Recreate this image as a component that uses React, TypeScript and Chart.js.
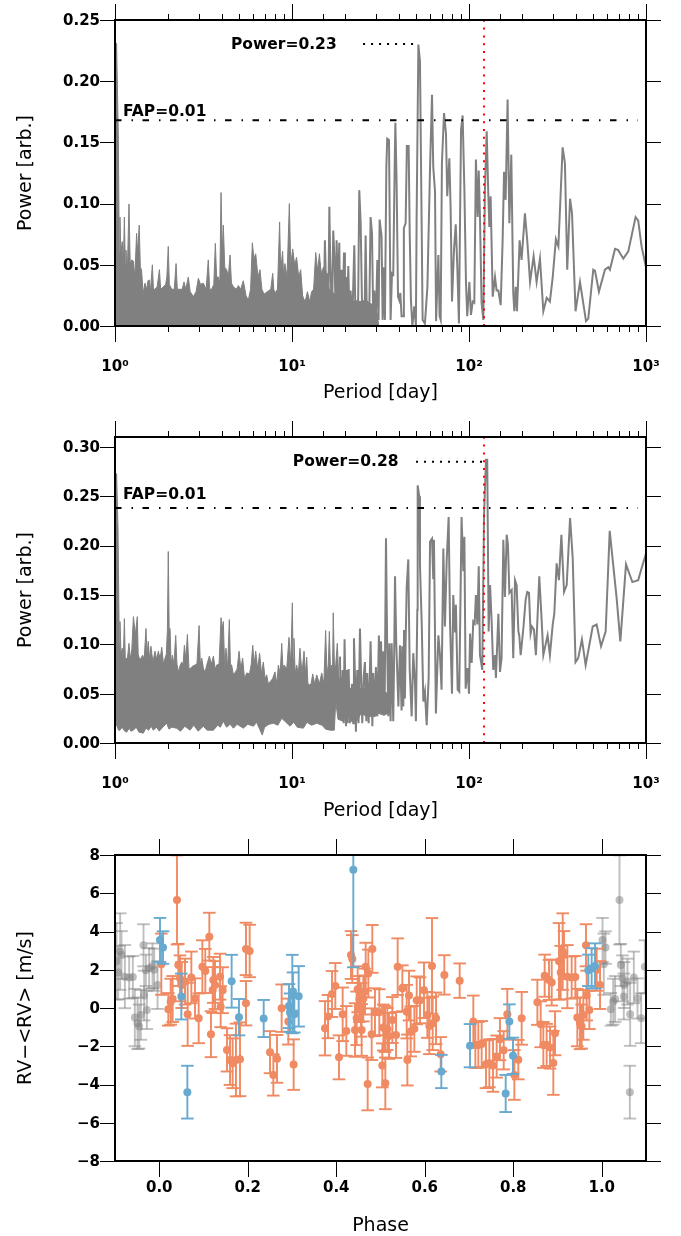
import { useRef, useEffect } from "react";
import { Chart, registerables } from "chart.js";

Chart.register(...registerables);

const GREY = "#808080";
const ORANGE = "#ef8a62";
const BLUE = "#67a9cf";
const FONT = "'DejaVu Sans'";

// top periodogram, dense part: log10(period) and power along the upper envelope
const logPeriodDenseA = [0, 0.009, 0.019, 0.024, 0.028, 0.033, 0.041, 0.047, 0.053, 0.058, 0.062, 0.07, 0.079, 0.086, 0.094, 0.104, 0.112, 0.122, 0.128, 0.137, 0.143, 0.15, 0.158, 0.163, 0.169, 0.18, 0.186, 0.194, 0.2, 0.211, 0.217, 0.226, 0.238, 0.251, 0.258, 0.273, 0.286, 0.293, 0.301, 0.307, 0.32, 0.335, 0.345, 0.352, 0.367, 0.38, 0.39, 0.4, 0.414, 0.425, 0.443, 0.458, 0.471, 0.483, 0.499, 0.515, 0.527, 0.535, 0.546, 0.558, 0.567, 0.574, 0.584, 0.592, 0.599, 0.606, 0.612, 0.62, 0.631, 0.64, 0.65, 0.658, 0.669, 0.685, 0.697, 0.71, 0.725, 0.74, 0.753, 0.766, 0.776, 0.785, 0.795, 0.808, 0.819, 0.83, 0.842, 0.86, 0.88, 0.891, 0.897, 0.904, 0.918, 0.93, 0.936, 0.947, 0.953, 0.96, 0.972, 0.985, 0.993, 1.004, 1.015, 1.026, 1.038, 1.049, 1.06, 1.068, 1.078, 1.087, 1.1, 1.111, 1.122, 1.134, 1.145, 1.155, 1.166, 1.177, 1.184, 1.19, 1.21, 1.25, 1.3, 1.35, 1.4, 1.45, 1.48, 1.49];
const powerDenseA = [0.16, 0.231, 0.152, 0.06, 0.089, 0.06, 0.069, 0.05, 0.089, 0.05, 0.062, 0.045, 0.0997, 0.05, 0.054, 0.053, 0.04, 0.0757, 0.06, 0.0825, 0.048, 0.046, 0.028, 0.03, 0.035, 0.03, 0.037, 0.0376, 0.028, 0.05, 0.03, 0.03, 0.032, 0.046, 0.03, 0.032, 0.034, 0.04, 0.065, 0.034, 0.03, 0.03, 0.051, 0.03, 0.03, 0.03, 0.036, 0.03, 0.04, 0.028, 0.024, 0.028, 0.039, 0.034, 0.035, 0.03, 0.054, 0.03, 0.03, 0.034, 0.0675, 0.04, 0.04, 0.035, 0.109, 0.06, 0.0825, 0.048, 0.046, 0.04, 0.058, 0.035, 0.032, 0.03, 0.033, 0.03, 0.037, 0.025, 0.021, 0.03, 0.068, 0.055, 0.059, 0.04, 0.046, 0.03, 0.026, 0.028, 0.03, 0.043, 0.03, 0.027, 0.03, 0.085, 0.045, 0.061, 0.04, 0.051, 0.04, 0.1, 0.05, 0.063, 0.05, 0.056, 0.04, 0.046, 0.025, 0.021, 0.022, 0.028, 0.02, 0.028, 0.03, 0.06, 0.045, 0.059, 0.04, 0.048, 0.03, 0.045, 0.03, 0.025, 0.022, 0.02, 0.02, 0.018, 0.012, 0];

// top periodogram, resolved part
const logPeriodA = [1.158, 1.164, 1.173, 1.179, 1.186, 1.194, 1.199, 1.205, 1.211, 1.216, 1.226, 1.233, 1.241, 1.247, 1.252, 1.26, 1.267, 1.273, 1.28, 1.286, 1.294, 1.299, 1.305, 1.312, 1.318, 1.324, 1.331, 1.341, 1.352, 1.359, 1.365, 1.373, 1.38, 1.388, 1.397, 1.403, 1.41, 1.416, 1.423, 1.427, 1.437, 1.444, 1.452, 1.459, 1.465, 1.474, 1.482, 1.489, 1.495, 1.506, 1.512, 1.516, 1.525, 1.533, 1.538, 1.548, 1.557, 1.565, 1.572, 1.58, 1.584, 1.591, 1.599, 1.606, 1.612, 1.619, 1.629, 1.632, 1.642, 1.649, 1.659, 1.665, 1.672, 1.68, 1.691, 1.7, 1.704, 1.714, 1.723, 1.733, 1.738, 1.751, 1.765, 1.78, 1.791, 1.798, 1.808, 1.814, 1.827, 1.834, 1.84, 1.847, 1.859, 1.87, 1.877, 1.889, 1.896, 1.904, 1.915, 1.925, 1.934, 1.943, 1.955, 1.964, 1.974, 1.983, 1.99, 2.002, 2.011, 2.021, 2.03, 2.039, 2.049, 2.055, 2.062, 2.071, 2.081, 2.09, 2.1, 2.109, 2.115, 2.122, 2.134, 2.147, 2.156, 2.166, 2.179, 2.19, 2.198, 2.207, 2.218, 2.228, 2.239, 2.25, 2.256, 2.264, 2.271, 2.286, 2.297, 2.316, 2.329, 2.345, 2.365, 2.382, 2.401, 2.42, 2.439, 2.457, 2.473, 2.491, 2.505, 2.529, 2.542, 2.555, 2.571, 2.582, 2.602, 2.627, 2.661, 2.674, 2.702, 2.712, 2.734, 2.768, 2.787, 2.796, 2.825, 2.843, 2.872, 2.9, 2.941, 2.956, 2.975, 3];
const powerA = [0.051, 0.021, 0.046, 0.01, 0.07, 0.021, 0.043, 0.01, 0.0975, 0.054, 0.005, 0.078, 0.051, 0.005, 0.07, 0.021, 0.068, 0.004, 0.046, 0.016, 0.06, 0.002, 0.04, 0.01, 0.049, 0.01, 0.029, 0.005, 0.066, 0.002, 0.021, 0.008, 0.111, 0.084, 0.005, 0.021, 0.008, 0.074, 0.005, 0.019, 0.016, 0.089, 0.076, 0.005, 0.029, 0.005, 0.054, 0.005, 0.087, 0.073, 0.005, 0.048, 0.005, 0.13, 0.153, 0.152, 0.005, 0.043, 0.042, 0.13, 0.166, 0.117, 0.024, 0.021, 0.027, 0.008, 0.008, 0.08, 0.084, 0.147, 0.147, 0.076, 0.021, 0, 0.016, 0, 0.087, 0.23, 0.216, 0.076, 0.005, 0.002, 0.032, 0.13, 0.189, 0.13, 0.11, 0.004, 0.058, 0.008, 0.005, 0.133, 0.174, 0.157, 0.106, 0.137, 0.097, 0.02, 0.062, 0.083, 0.048, 0.002, 0.16, 0.172, 0.111, 0.035, 0.008, 0.036, 0.009, 0.02, 0.019, 0.136, 0.089, 0.127, 0.089, 0.019, 0.005, 0.111, 0.159, 0.108, 0.081, 0.106, 0.024, 0.04, 0.029, 0.029, 0.017, 0.07, 0.126, 0.103, 0.185, 0.084, 0.14, 0.027, 0.012, 0.032, 0.012, 0.07, 0.054, 0.092, 0.07, 0.036, 0.057, 0.036, 0.055, 0.012, 0.023, 0.02, 0.04, 0.071, 0.065, 0.146, 0.133, 0.046, 0.104, 0.092, 0.012, 0.036, 0.004, 0.006, 0.046, 0.045, 0.028, 0.046, 0.048, 0.046, 0.063, 0.062, 0.055, 0.061, 0.089, 0.086, 0.065, 0.048];

// second periodogram, dense part: upper and lower envelopes
const logPeriodUpperB = [0, 0.009, 0.017, 0.024, 0.028, 0.034, 0.041, 0.047, 0.053, 0.058, 0.062, 0.07, 0.079, 0.086, 0.095, 0.104, 0.115, 0.126, 0.131, 0.137, 0.146, 0.156, 0.165, 0.175, 0.181, 0.188, 0.195, 0.203, 0.214, 0.226, 0.235, 0.245, 0.255, 0.264, 0.274, 0.283, 0.29, 0.296, 0.301, 0.306, 0.311, 0.317, 0.324, 0.333, 0.343, 0.35, 0.358, 0.367, 0.377, 0.385, 0.392, 0.4, 0.409, 0.418, 0.428, 0.44, 0.452, 0.463, 0.475, 0.482, 0.49, 0.5, 0.509, 0.52, 0.533, 0.545, 0.556, 0.566, 0.575, 0.588, 0.599, 0.606, 0.612, 0.62, 0.627, 0.636, 0.646, 0.652, 0.659, 0.668, 0.678, 0.69, 0.701, 0.711, 0.721, 0.732, 0.744, 0.76, 0.77, 0.778, 0.787, 0.795, 0.806, 0.817, 0.828, 0.838, 0.848, 0.857, 0.866, 0.876, 0.89, 0.904, 0.914, 0.923, 0.933, 0.942, 0.949, 0.955, 0.97, 0.983, 0.993, 1.002, 1.006, 1.011, 1.018, 1.026, 1.036, 1.045, 1.056, 1.068, 1.076, 1.083, 1.09, 1.098, 1.108, 1.117, 1.128, 1.14, 1.155, 1.168, 1.18, 1.19, 1.198, 1.205, 1.211, 1.218, 1.224, 1.229, 1.233, 1.24, 1.247, 1.256, 1.263, 1.271, 1.3, 1.35, 1.4, 1.45, 1.5, 1.54, 1.56];
const powerUpperB = [0.18, 0.273, 0.218, 0.1, 0.123, 0.09, 0.096, 0.085, 0.126, 0.085, 0.086, 0.085, 0.101, 0.085, 0.095, 0.128, 0.11, 0.128, 0.09, 0.086, 0.085, 0.089, 0.085, 0.116, 0.09, 0.103, 0.085, 0.098, 0.082, 0.093, 0.085, 0.093, 0.085, 0.097, 0.08, 0.086, 0.09, 0.115, 0.194, 0.115, 0.116, 0.08, 0.089, 0.08, 0.109, 0.08, 0.072, 0.078, 0.082, 0.08, 0.099, 0.085, 0.11, 0.075, 0.076, 0.078, 0.079, 0.08, 0.119, 0.08, 0.086, 0.075, 0.072, 0.08, 0.088, 0.08, 0.088, 0.075, 0.079, 0.08, 0.127, 0.115, 0.123, 0.075, 0.096, 0.075, 0.125, 0.08, 0.079, 0.07, 0.071, 0.075, 0.093, 0.075, 0.086, 0.065, 0.071, 0.07, 0.08, 0.099, 0.08, 0.093, 0.075, 0.091, 0.07, 0.082, 0.065, 0.069, 0.06, 0.062, 0.065, 0.072, 0.06, 0.079, 0.07, 0.101, 0.075, 0.079, 0.075, 0.107, 0.08, 0.142, 0.085, 0.106, 0.07, 0.079, 0.07, 0.096, 0.07, 0.093, 0.07, 0.087, 0.06, 0.059, 0.06, 0.07, 0.06, 0.069, 0.06, 0.071, 0.06, 0.114, 0.07, 0.079, 0.113, 0.07, 0.079, 0.07, 0.132, 0.075, 0.079, 0.101, 0.07, 0.06, 0.055, 0.055, 0.055, 0.055, 0.055, 0.05, 0.045];
const logPeriodLowerB = [0, 0.009, 0.02, 0.028, 0.04, 0.055, 0.066, 0.08, 0.09, 0.104, 0.12, 0.135, 0.16, 0.175, 0.19, 0.205, 0.216, 0.235, 0.25, 0.27, 0.292, 0.305, 0.32, 0.348, 0.37, 0.395, 0.424, 0.445, 0.47, 0.499, 0.52, 0.556, 0.58, 0.595, 0.612, 0.63, 0.65, 0.669, 0.69, 0.725, 0.75, 0.782, 0.8, 0.815, 0.832, 0.845, 0.87, 0.895, 0.92, 0.942, 0.96, 0.989, 1.01, 1.03, 1.064, 1.085, 1.11, 1.14, 1.17, 1.19, 1.215, 1.239, 1.247, 1.26, 1.29, 1.31, 1.335, 1.366, 1.39, 1.422, 1.444, 1.47, 1.49, 1.52, 1.54, 1.56];
const powerLowerB = [0.03, 0.018, 0.013, 0.013, 0.016, 0.012, 0.011, 0.015, 0.012, 0.013, 0.016, 0.011, 0.01, 0.015, 0.013, 0.017, 0.013, 0.016, 0.012, 0.016, 0.02, 0.014, 0.016, 0.015, 0.012, 0.017, 0.013, 0.018, 0.012, 0.017, 0.013, 0.013, 0.018, 0.016, 0.022, 0.016, 0.019, 0.015, 0.019, 0.015, 0.019, 0.017, 0.021, 0.015, 0.008, 0.016, 0.019, 0.02, 0.018, 0.025, 0.022, 0.017, 0.021, 0.016, 0.015, 0.021, 0.018, 0.02, 0.018, 0.014, 0.013, 0.013, 0.042, 0.024, 0.022, 0.03, 0.022, 0.022, 0.03, 0.027, 0.027, 0.027, 0.03, 0.028, 0.03, 0.03];

// second periodogram, resolved part
const logPeriodB = [1.271, 1.277, 1.286, 1.292, 1.297, 1.305, 1.309, 1.314, 1.32, 1.327, 1.339, 1.346, 1.35, 1.356, 1.361, 1.369, 1.376, 1.384, 1.392, 1.397, 1.405, 1.412, 1.42, 1.425, 1.433, 1.444, 1.454, 1.459, 1.467, 1.474, 1.482, 1.491, 1.497, 1.503, 1.51, 1.516, 1.523, 1.531, 1.538, 1.544, 1.55, 1.557, 1.563, 1.572, 1.578, 1.582, 1.589, 1.601, 1.61, 1.619, 1.623, 1.629, 1.633, 1.638, 1.642, 1.648, 1.657, 1.665, 1.676, 1.685, 1.695, 1.7, 1.708, 1.71, 1.719, 1.723, 1.733, 1.742, 1.751, 1.761, 1.772, 1.78, 1.791, 1.798, 1.802, 1.813, 1.827, 1.836, 1.845, 1.855, 1.864, 1.874, 1.885, 1.893, 1.904, 1.911, 1.921, 1.926, 1.936, 1.945, 1.958, 1.968, 1.974, 1.981, 1.991, 2, 2.006, 2.015, 2.024, 2.032, 2.039, 2.047, 2.055, 2.062, 2.075, 2.085, 2.096, 2.103, 2.111, 2.119, 2.128, 2.137, 2.147, 2.152, 2.166, 2.175, 2.184, 2.194, 2.203, 2.213, 2.22, 2.228, 2.241, 2.25, 2.26, 2.269, 2.279, 2.284, 2.292, 2.307, 2.32, 2.329, 2.339, 2.348, 2.356, 2.367, 2.378, 2.397, 2.41, 2.42, 2.444, 2.457, 2.473, 2.482, 2.495, 2.508, 2.522, 2.537, 2.552, 2.571, 2.586, 2.602, 2.617, 2.638, 2.659, 2.699, 2.721, 2.746, 2.772, 2.795, 2.815, 2.834, 2.855, 2.887, 2.923, 2.956, 2.975, 3];
const powerB = [0.0875, 0.023, 0.074, 0.02, 0.105, 0.017, 0.074, 0.02, 0.075, 0.02, 0.06, 0.02, 0.106, 0.067, 0.0115, 0.074, 0.02, 0.116, 0.054, 0.02, 0.067, 0.082, 0.022, 0.071, 0.02, 0.103, 0.017, 0.071, 0.027, 0.077, 0.027, 0.109, 0.03, 0.103, 0.03, 0.093, 0.03, 0.2074, 0.094, 0.027, 0.101, 0.022, 0.101, 0.022, 0.101, 0.169, 0.101, 0.037, 0.099, 0.033, 0.098, 0.037, 0.1145, 0.045, 0.103, 0.158, 0.186, 0.074, 0.027, 0.091, 0.06, 0.022, 0.135, 0.261, 0.25, 0.18, 0.12, 0.042, 0.052, 0.018, 0.066, 0.204, 0.207, 0.167, 0.206, 0.03, 0.109, 0.089, 0.054, 0.197, 0.118, 0.185, 0.229, 0.12, 0.05, 0.15, 0.113, 0.14, 0.054, 0.052, 0.229, 0.174, 0.209, 0.055, 0.076, 0.05, 0.111, 0.081, 0.123, 0.121, 0.15, 0.12, 0.179, 0.089, 0.074, 0.231, 0.287, 0.287, 0.113, 0.16, 0.123, 0.074, 0.089, 0.066, 0.131, 0.072, 0.086, 0.206, 0.148, 0.211, 0.201, 0.152, 0.155, 0.086, 0.165, 0.16, 0.113, 0.109, 0.089, 0.116, 0.145, 0.153, 0.152, 0.111, 0.118, 0.115, 0.089, 0.169, 0.126, 0.089, 0.109, 0.089, 0.12, 0.131, 0.182, 0.165, 0.211, 0.153, 0.16, 0.228, 0.187, 0.082, 0.086, 0.105, 0.079, 0.118, 0.12, 0.098, 0.113, 0.215, 0.18, 0.147, 0.103, 0.181, 0.163, 0.165, 0.177, 0.192];

// phase-folded radial velocities
const phaseBlue = [0.0017, 0.0085, 0.0499, 0.0635, 0.1636, 0.1802, 0.236, 0.2932, 0.2955, 0.3007, 0.3022, 0.3053, 0.3151, 0.4386, 0.6375, 0.7023, 0.7829, 0.7912, 0.7994, 0.9697, 0.9772, 0.9848];
const rvBlue = [3.56, 3.16, 0.6, -4.4, 1.4, -0.48, -0.55, 0.1, -0.24, 0.73, 0.86, -0.33, 0.61, 7.23, -3.32, -1.97, -4.47, -0.71, -2.5, 1.97, 2.08, 2.2];
const errBlue = [1.15, 0.85, 1.2, 1.38, 1.38, 0.95, 0.97, 1.15, 1, 2.05, 1, 0.95, 1.58, 5.1, 0.87, 1.13, 0.97, 0.9, 0.95, 0.82, 1.05, 1.18];

const phaseOrange = [0.0047, 0.0401, 0.0205, 0.0258, 0.0303, 0.0431, 0.0469, 0.0507, 0.0582, 0.0642, 0.0725, 0.0808, 0.0891, 0.0974, 0.1041, 0.1132, 0.1169, 0.1222, 0.1207, 0.126, 0.1373, 0.1388, 0.1433, 0.1531, 0.1599, 0.1659, 0.1734, 0.1825, 0.196, 0.2043, 0.196, 0.2503, 0.2578, 0.2661, 0.3037, 0.2766, 0.2917, 0.3746, 0.3814, 0.3904, 0.3979, 0.4062, 0.4145, 0.4228, 0.4333, 0.4363, 0.4424, 0.4461, 0.4484, 0.4522, 0.4574, 0.4559, 0.4612, 0.465, 0.4665, 0.4725, 0.4815, 0.471, 0.48, 0.4875, 0.4973, 0.5064, 0.5041, 0.5109, 0.5154, 0.5102, 0.5192, 0.5268, 0.5351, 0.5388, 0.5494, 0.5592, 0.5644, 0.5682, 0.5765, 0.5607, 0.5818, 0.5893, 0.5983, 0.6059, 0.6104, 0.6164, 0.6179, 0.6255, 0.636, 0.6443, 0.6789, 0.7098, 0.7143, 0.7211, 0.7286, 0.7384, 0.746, 0.7543, 0.7625, 0.77, 0.7784, 0.7866, 0.8115, 0.8025, 0.819, 0.8545, 0.862, 0.868, 0.8755, 0.8831, 0.8906, 0.8944, 0.871, 0.8808, 0.8869, 0.9034, 0.9072, 0.9117, 0.9147, 0.9223, 0.932, 0.9403, 0.9448, 0.9509, 0.9546, 0.9584, 0.9659, 0.9644, 0.972, 0.9885, 0.9961];
const rvOrange = [2.29, 5.65, -0.07, 0.33, 0.47, 2.25, 1.55, 1.2, 1.38, -0.33, 1.6, 0.5, -0.54, 2.16, 1.94, 3.73, -1.37, 1.47, 0.94, 1.2, 1.64, 0.07, 0.93, -2.19, -2.72, -2.89, -2.72, -2.68, 3.09, 2.98, 0.25, -2.31, -3.5, -2.66, -2.96, -0.01, -0.71, -1.06, -0.45, 0.73, 1.15, -2.58, -0.33, -1.2, 2.77, 2.56, -1.15, -0.54, 0.98, 0.47, -1.15, -0.1, 0.5, 0.86, 2.16, 1.8, 3.09, -3.97, -1.37, -0.22, -0.22, -1.02, -3, -3.94, -1.1, -1.1, -1.46, -0.63, -1.41, 2.16, 1.03, -0.19, 0.65, -1.23, -1.09, -2.72, 0.4, 0.4, 0.93, -0.36, -0.94, 2.2, -0.8, -0.54, -2.42, 1.73, 1.43, -0.71, -1.93, -1.93, -1.88, -2.94, -2.89, -3, -2.54, -1.63, -2.21, -0.33, -2.7, -3.5, -0.54, 0.3, -0.85, -1.93, -1.93, -2.07, -2.87, -1.32, 1.69, 1.47, 1.33, 2.44, 1.85, 2.95, 2.77, 1.64, 1.59, 1.62, -0.5, -0.8, -0.97, -0.36, 0.65, 3.28, -0.1, 2, 1.2];
const errOrange = [1.6, 2.33, 0.85, 1.2, 1.2, 1.1, 1.2, 1.2, 1.2, 1.65, 1.35, 1.05, 1.3, 1.38, 1.15, 1.25, 1.2, 1.2, 1.2, 1.25, 1.2, 1.07, 1.2, 1.13, 1.3, 1.3, 1.9, 1.93, 1.37, 1.37, 1.16, 1.1, 1.08, 1.25, 1.32, 1.24, 1.2, 1.42, 1.13, 1.2, 1.2, 1.15, 1.4, 1.3, 1.25, 1.25, 1.4, 1.4, 1.2, 1.2, 1.35, 1.4, 1.2, 1.2, 1.25, 1.25, 1.25, 1.38, 1.35, 1.25, 1.2, 1.2, 1.15, 1.35, 1.1, 1.2, 1.2, 1.2, 1.2, 1.48, 1.2, 1.4, 1.3, 1.3, 1.2, 1.33, 1.25, 1.2, 1.45, 1.2, 1.47, 2.5, 1.4, 1.35, 0.9, 1.03, 0.9, 1.36, 1.2, 1.2, 1.2, 1.25, 1.25, 1.38, 1.1, 1.1, 1, 1.33, 1.03, 1.3, 1.38, 1.18, 1.2, 1.2, 1.1, 1.1, 1.67, 1.15, 1.1, 1.05, 1.2, 2, 1.4, 2, 1.25, 1.65, 1.1, 1.1, 1.5, 1.35, 1.15, 1.3, 1.3, 1.1, 1, 1.1, 1.25];

// wrapped copies outside phase 0-1
const phaseGrey = [-0.0966, -0.0928, -0.0883, -0.0853, -0.0777, -0.068, -0.0597, -0.0552, -0.0491, -0.0454, -0.0416, -0.0341, -0.0356, -0.028, -0.0115, -0.0039, -0.0303, -0.0228, -0.0152, 1.0017, 1.0085, 1.0499, 1.0635, 1.0047, 1.0401, 1.0205, 1.0258, 1.0303, 1.0431, 1.0469, 1.0507, 1.0582, 1.0642, 1.0725, 1.0808, 1.0891, 1.0974];
const rvGrey = [2.44, 1.85, 2.95, 2.77, 1.64, 1.59, 1.62, -0.5, -0.8, -0.97, -0.36, 0.65, 3.28, -0.1, 2, 1.2, 1.97, 2.08, 2.2, 3.56, 3.16, 0.6, -4.4, 2.29, 5.65, -0.07, 0.33, 0.47, 2.25, 1.55, 1.2, 1.38, -0.33, 1.6, 0.5, -0.54, 2.16];
const errGrey = [2, 1.4, 2, 1.25, 1.65, 1.1, 1.1, 1.5, 1.35, 1.15, 1.3, 1.3, 1.1, 1, 1.1, 1.25, 0.82, 1.05, 1.18, 1.15, 0.85, 1.2, 1.38, 1.6, 2.33, 0.85, 1.2, 1.2, 1.1, 1.2, 1.2, 1.2, 1.65, 1.35, 1.05, 1.3, 1.38];

const SUPERSCRIPTS: Record<number, string> = { 1: "10⁰", 10: "10¹", 100: "10²", 1000: "10³" };

const zipLog = (logs: number[], values: number[]) => logs.map((l, i) => ({ x: 10 ** l, y: values[i] }));
const zipXY = (xs: number[], ys: number[]) => xs.map((x, i) => ({ x, y: ys[i] }));

function isDecade(v: number) {
    return SUPERSCRIPTS[v] !== undefined;
}

interface Note {
    text: string;
    x: number;
    y: number;
}

// frame, ticks on all four sides and the text notes
function framePlugin(notes: Note[]) {
    return {
        id: "frameTicks",
        afterDraw(chart: Chart) {
            const { ctx, chartArea: a, scales } = chart;
            ctx.save();
            ctx.strokeStyle = "#000";
            ctx.lineWidth = 1;
            ctx.beginPath();
            for (const t of scales.x.ticks) {
                const px = Math.round(scales.x.getPixelForValue(t.value)) + 0.5;
                const log = scales.x.type === "logarithmic";
                const len = log && !isDecade(t.value) ? 6 : 16;
                ctx.moveTo(px, a.top);
                ctx.lineTo(px, a.top - len);
                ctx.moveTo(px, a.bottom);
                ctx.lineTo(px, a.bottom + len);
            }
            for (const t of scales.y.ticks) {
                const py = Math.round(scales.y.getPixelForValue(t.value)) + 0.5;
                ctx.moveTo(a.left, py);
                ctx.lineTo(a.left - 15, py);
                ctx.moveTo(a.right, py);
                ctx.lineTo(a.right + 15, py);
            }
            ctx.stroke();
            ctx.lineWidth = 2;
            ctx.strokeRect(a.left, a.top, a.right - a.left, a.bottom - a.top);
            ctx.fillStyle = "#000";
            ctx.font = `bold 15.5px ${FONT}`;
            ctx.textBaseline = "middle";
            for (const n of notes) {
                ctx.fillText(n.text, scales.x.getPixelForValue(n.x), scales.y.getPixelForValue(n.y) + 1);
            }
            ctx.restore();
        }
    };
}

function baseOptions(bottomHeight: number, top: number, xLabel: string, yLabel: string, xTitlePad: number, xTickPad: number): any {
    const tickFont = { family: FONT, size: 15, weight: "bold" as const };
    const titleFont = { family: FONT, size: 19, lineHeight: 1 };
    return {
        responsive: false,
        animation: false,
        events: [],
        layout: { padding: { top, right: 35, left: 0, bottom: 0 } },
        plugins: { legend: { display: false }, tooltip: { enabled: false } },
        scales: {
            x: {
                grid: { display: false },
                border: { display: false },
                afterFit: (s: any) => {
                    s.height = bottomHeight;
                    s.paddingLeft = 0;
                    s.paddingRight = 0;
                },
                title: { display: true, text: xLabel, color: "#000", font: titleFont, padding: { top: xTitlePad, bottom: xTitlePad } },
                ticks: { color: "#000", font: tickFont, padding: xTickPad, autoSkip: false, maxRotation: 0 }
            },
            y: {
                grid: { display: false },
                border: { display: false },
                afterFit: (s: any) => {
                    s.width = 115;
                    s.paddingTop = 0;
                    s.paddingBottom = 0;
                },
                title: { display: true, text: yLabel, color: "#000", font: titleFont, padding: { top: 17, bottom: 4 } },
                ticks: { color: "#000", font: tickFont, padding: 7, labelOffset: 1, autoSkip: false, includeBounds: false }
            }
        }
    };
}

function periodOptions(bottomHeight: number, top: number, yMax: number, xTitlePad: number) {
    const options = baseOptions(bottomHeight, top, "Period [day]", "Power [arb.]", xTitlePad, 24);
    options.scales.x.type = "logarithmic";
    options.scales.x.min = 1;
    options.scales.x.max = 1000;
    options.scales.x.ticks.callback = (v: number) => SUPERSCRIPTS[v] ?? "";
    options.scales.y.min = 0;
    options.scales.y.max = yMax;
    options.scales.y.ticks.stepSize = 0.05;
    options.scales.y.ticks.callback = (v: number) => v.toFixed(2);
    return options;
}

function overlayLines(fap: number, peak: number, peakFrom: number, peakTo: number, yMax: number) {
    const shared = { pointRadius: 0, fill: false };
    return [
        { ...shared, data: [{ x: 121.5, y: 0 }, { x: 121.5, y: yMax }], borderColor: "#ff0000", borderWidth: 2, borderDash: [2, 5.8] },
        { ...shared, data: [{ x: 1, y: fap }, { x: 900, y: fap }], borderColor: "#000", borderWidth: 2, borderDash: [6.5, 10, 1.5, 9.5] },
        { ...shared, data: [{ x: peakFrom, y: peak }, { x: peakTo, y: peak }], borderColor: "#000", borderWidth: 2, borderDash: [2, 6] }
    ];
}

const lineStyle = { pointRadius: 0, borderColor: GREY, borderWidth: 2, tension: 0 };

function errorBars(xs: number[], ys: number[], errs: number[], color: string) {
    const data: { x: number; y: number | null }[] = [];
    xs.forEach((x, i) => {
        data.push({ x, y: ys[i] - errs[i] }, { x, y: ys[i] + errs[i] }, { x, y: null });
    });
    return {
        data,
        showLine: true,
        spanGaps: false,
        borderColor: color,
        borderWidth: 1.9,
        pointStyle: "line",
        pointRadius: 6.3,
        pointBorderColor: color,
        pointBorderWidth: 1.9
    };
}

function dots(xs: number[], ys: number[], color: string) {
    return {
        data: zipXY(xs, ys),
        showLine: false,
        pointStyle: "circle",
        pointRadius: 4,
        pointBorderWidth: 0,
        pointBackgroundColor: color
    };
}

export default function App() {
    const refA = useRef<HTMLCanvasElement>(null);
    const refB = useRef<HTMLCanvasElement>(null);
    const refC = useRef<HTMLCanvasElement>(null);

    useEffect(() => {
        const chartA = new Chart(refA.current!, {
            type: "line",
            data: {
                datasets: [
                    ...overlayLines(0.168, 0.2304, 25.2, 49.4, 0.25),
                    { ...lineStyle, data: zipLog(logPeriodA, powerA), fill: false },
                    { ...lineStyle, borderWidth: 1, data: zipLog(logPeriodDenseA, powerDenseA), backgroundColor: GREY, fill: "origin" }
                ]
            } as any,
            options: periodOptions(86, 20, 0.25, 9.5),
            plugins: [framePlugin([{ text: "Power=0.23", x: 4.52, y: 0.2304 }, { text: "FAP=0.01", x: 1.11, y: 0.1757 }])] as any
        });

        const chartB = new Chart(refB.current!, {
            type: "line",
            data: {
                datasets: [
                    ...overlayLines(0.238, 0.285, 50.2, 123, 0.31),
                    { ...lineStyle, data: zipLog(logPeriodB, powerB), fill: false },
                    { ...lineStyle, borderWidth: 1, data: zipLog(logPeriodUpperB, powerUpperB), backgroundColor: GREY, fill: "+1" },
                    { ...lineStyle, borderWidth: 1, data: zipLog(logPeriodLowerB, powerLowerB), fill: false }
                ]
            } as any,
            options: periodOptions(85, 25, 0.31, 7.5),
            plugins: [framePlugin([{ text: "Power=0.28", x: 10.1, y: 0.2858 }, { text: "FAP=0.01", x: 1.11, y: 0.2523 }])] as any
        });

        const rvOptions = baseOptions(75, 27, "Phase", "RV−<RV> [m/s]", 0.5, 10);
        rvOptions.scales.x.type = "linear";
        rvOptions.scales.x.min = -0.1;
        rvOptions.scales.x.max = 1.1;
        rvOptions.scales.x.ticks.stepSize = 0.2;
        rvOptions.scales.x.ticks.includeBounds = false;
        rvOptions.scales.x.afterBuildTicks = (s: any) => {
            s.ticks = [0, 0.2, 0.4, 0.6, 0.8, 1].map(value => ({ value }));
        };
        rvOptions.scales.x.ticks.callback = (v: number) => v.toFixed(1);
        rvOptions.scales.y.min = -8;
        rvOptions.scales.y.max = 8;
        rvOptions.scales.y.ticks.stepSize = 2;
        rvOptions.scales.y.ticks.callback = (v: number) => String(v).replace("-", "−");

        const chartC = new Chart(refC.current!, {
            type: "line",
            data: {
                datasets: [
                    dots(phaseBlue, rvBlue, BLUE),
                    errorBars(phaseBlue, rvBlue, errBlue, BLUE),
                    dots(phaseOrange, rvOrange, ORANGE),
                    errorBars(phaseOrange, rvOrange, errOrange, ORANGE),
                    dots(phaseGrey, rvGrey, "rgba(128,128,128,0.5)"),
                    errorBars(phaseGrey, rvGrey, errGrey, "rgba(128,128,128,0.5)")
                ]
            } as any,
            options: rvOptions,
            plugins: [framePlugin([])] as any
        });

        return () => {
            chartA.destroy();
            chartB.destroy();
            chartC.destroy();
        };
    }, []);

    return (
        <div style={{ position: "absolute", left: 0, top: 0, width: 681, height: 1236, background: "#fff" }}>
            <canvas ref={refA} width={681} height={412} style={{ position: "absolute", left: 0, top: 0 }} />
            <canvas ref={refB} width={681} height={416} style={{ position: "absolute", left: 0, top: 412 }} />
            <canvas ref={refC} width={681} height={408} style={{ position: "absolute", left: 0, top: 828 }} />
        </div>
    );
}
